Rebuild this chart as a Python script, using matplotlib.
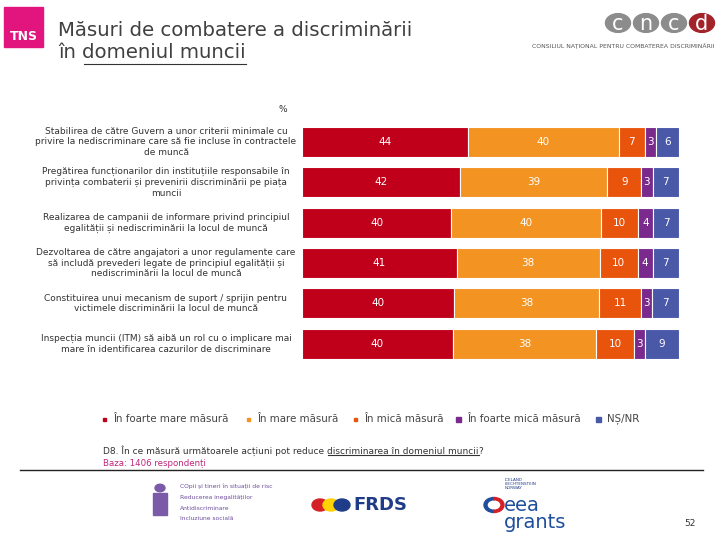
import numpy as np
import matplotlib
matplotlib.use("Agg")
import matplotlib.pyplot as plt
from matplotlib.patches import Rectangle, Circle, Wedge

# date (%)
categorii = [
    "Stabilirea de către Guvern a unor criterii minimale cu\nprivire la nediscriminare care să fie incluse în contractele\nde muncă",
    "Pregătirea funcționarilor din instituțiile responsabile în\nprivința combaterii și prevenirii discriminării pe piața\nmuncii",
    "Realizarea de campanii de informare privind principiul\negalității și nediscriminării la locul de muncă",
    "Dezvoltarea de către angajatori a unor regulamente care\nsă includă prevederi legate de principiul egalității și\nnediscriminării la locul de muncă",
    "Constituirea unui mecanism de suport / sprijin pentru\nvictimele discriminării la locul de muncă",
    "Inspecția muncii (ITM) să aibă un rol cu o implicare mai\nmare în identificarea cazurilor de discriminare",
]
foarte_mare = [44, 42, 40, 41, 40, 40]
mare = [40, 39, 40, 38, 38, 38]
mica = [7, 9, 10, 10, 11, 10]
foarte_mica = [3, 3, 4, 4, 3, 3]
ns_nr = [6, 7, 7, 7, 7, 9]

serii = ["În foarte mare măsură", "În mare măsură", "În mică măsură",
         "În foarte mică măsură", "NȘ/NR"]
culori = ["#C0001A", "#F39322", "#E9540D", "#7A2A8C", "#4A58A8"]

W, H = 720, 540
def fx(x):
    return x / W
def fy(y):
    return 1 - y / H

fig = plt.figure(figsize=(7.2, 5.4), dpi=100)
fig.patch.set_facecolor("white")

# ---- graficul cu bare ----
ax = fig.add_axes([fx(302), fy(364), (679 - 302) / W, 242.4 / H])
date = np.array([foarte_mare, mare, mica, foarte_mica, ns_nr], dtype=float)
tot = date.sum(axis=0)
y = np.arange(len(categorii))
stanga = np.zeros(len(categorii))
for i in range(len(serii)):
    latime = date[i] / tot * 100
    ax.barh(y, latime, left=stanga, height=0.74, color=culori[i],
            edgecolor="white", linewidth=0.8)
    for j in range(len(y)):
        ax.text(stanga[j] + latime[j] / 2, y[j], f"{int(date[i][j])}",
                ha="center", va="center", color="white", fontsize=7.5)
    stanga += latime
ax.set_xlim(0, 100)
ax.set_ylim(5.5, -0.5)
ax.axis("off")

# etichetele categoriilor
for j, c in enumerate(categorii):
    fig.text(fx(166), fy(142 + 40.4 * j), c, ha="center", va="center",
             fontsize=6.5, color="#333333", linespacing=1.22)

fig.text(fx(283), fy(110), "%", ha="center", va="center", fontsize=6.5, color="#333333")

# ---- titlu si logo TNS ----
fig.patches.append(Rectangle((fx(4), fy(47)), 39 / W, 40 / H, transform=fig.transFigure,
                             color="#E2157E"))
fig.text(fx(24), fy(37), "TNS", ha="center", va="center", fontsize=9,
         fontweight="bold", color="white")
fig.text(fx(58), fy(30), "Măsuri de combatere a discriminării", ha="left", va="center",
         fontsize=14.2, color="#404040")
t1 = fig.text(fx(58), fy(53), "în ", ha="left", va="center", fontsize=14.2, color="#404040")

# ---- logo CNCD ----
for k, (lit, col) in enumerate(zip("cncd", ["#8C8C8C", "#8C8C8C", "#8C8C8C", "#A3232A"])):
    cx = 618 + 28 * k
    fig.patches.append(Circle((fx(cx), fy(23)), 12.5 / W, transform=fig.transFigure,
                              color=col))
    fig.text(fx(cx), fy(24), lit, ha="center", va="center", fontsize=15, color="white")
fig.text(fx(623), fy(45), "CONSILIUL NAȚIONAL PENTRU COMBATEREA DISCRIMINĂRII",
         ha="center", va="center", fontsize=4.4, color="#555555")

# ---- legenda ----
leg_x = [104, 248, 355, 458, 598]
for k, (s, col) in enumerate(zip(serii, culori)):
    d = 3 if k < 3 else 5
    fig.patches.append(Rectangle((fx(leg_x[k] - d / 2), fy(419 + d / 2)), d / W, d / H,
                                 transform=fig.transFigure, color=col))
    fig.text(fx(leg_x[k] + 9), fy(419), s, ha="left", va="center", fontsize=7.4,
             color="#444444")

# ---- intrebarea ----
q1 = fig.text(fx(103), fy(451), "D8. În ce măsură următoarele acțiuni pot reduce ",
              ha="left", va="center", fontsize=6.45, color="#333333")
fig.text(fx(103), fy(463), "Baza: 1406 respondenți", ha="left", va="center",
         fontsize=6.2, color="#C0267E")
fig.lines.append(plt.Line2D([fx(20), fx(703)], [fy(470), fy(470)],
                            transform=fig.transFigure, color="#222222", lw=1))

# ---- logo-uri jos ----
fig.patches.append(Circle((fx(160), fy(488)), 5 / W, transform=fig.transFigure, color="#7B5BA8"))
fig.patches.append(Rectangle((fx(153), fy(515)), 14 / W, 22 / H, transform=fig.transFigure,
                             color="#7B5BA8"))
for k, r in enumerate(["COpii și tineri în situații de risc", "Reducerea inegalităților",
                       "Antidiscriminare", "Incluziune socială"]):
    fig.text(fx(180), fy(486 + 11 * k), r, ha="left", va="center", fontsize=4.3,
             color="#6A4C9C")
for cx, col in [(320, "#D62027"), (331, "#FFD200"), (342, "#1F3C88")]:
    fig.patches.append(Circle((fx(cx), fy(505)), 8 / W, transform=fig.transFigure, color=col))
fig.text(fx(353), fy(505), "FRDS", ha="left", va="center", fontsize=13,
         fontweight="bold", color="#1F3C88")
fig.patches.append(Wedge((fx(494), fy(505)), 10 / W, 90, 270, width=3 / W,
                         transform=fig.transFigure, color="#1F4E9C"))
fig.patches.append(Wedge((fx(494), fy(505)), 10 / W, -90, 90, width=3 / W,
                         transform=fig.transFigure, color="#D62027"))
fig.text(fx(505), fy(484), "ICELAND\nLIECHTENSTEIN\nNORWAY", ha="left", va="center",
         fontsize=3, color="#1F3C88", linespacing=1.1)
fig.text(fx(504), fy(514), "eea\ngrants", ha="left", va="center", fontsize=14,
         color="#1F4E9C", linespacing=0.85)
fig.text(fx(690), fy(523), "52", ha="center", va="center", fontsize=6.5, color="#333333")

# texte subliniate, pozitionate dupa masurare
fig.canvas.draw()
r = fig.canvas.get_renderer()
bb = t1.get_window_extent(r)
t2 = fig.text(bb.x1 / W, fy(53), "domeniul muncii", ha="left", va="center",
              fontsize=14.2, color="#404040")
bb = q1.get_window_extent(r)
q2 = fig.text(bb.x1 / W, fy(451), "discriminarea în domeniul muncii", ha="left",
              va="center", fontsize=6.45, color="#333333")
fig.canvas.draw()
for t, yy in [(t2, 64), (q2, 455)]:
    b = t.get_window_extent(r)
    fig.lines.append(plt.Line2D([b.x0 / W + 0.002, b.x1 / W], [fy(yy), fy(yy)],
                                transform=fig.transFigure, color="#333333", lw=0.8))
bb = q2.get_window_extent(r)
fig.text(bb.x1 / W, fy(451), "?", ha="left", va="center", fontsize=6.45, color="#333333")

fig.savefig("out.png", dpi=100)
